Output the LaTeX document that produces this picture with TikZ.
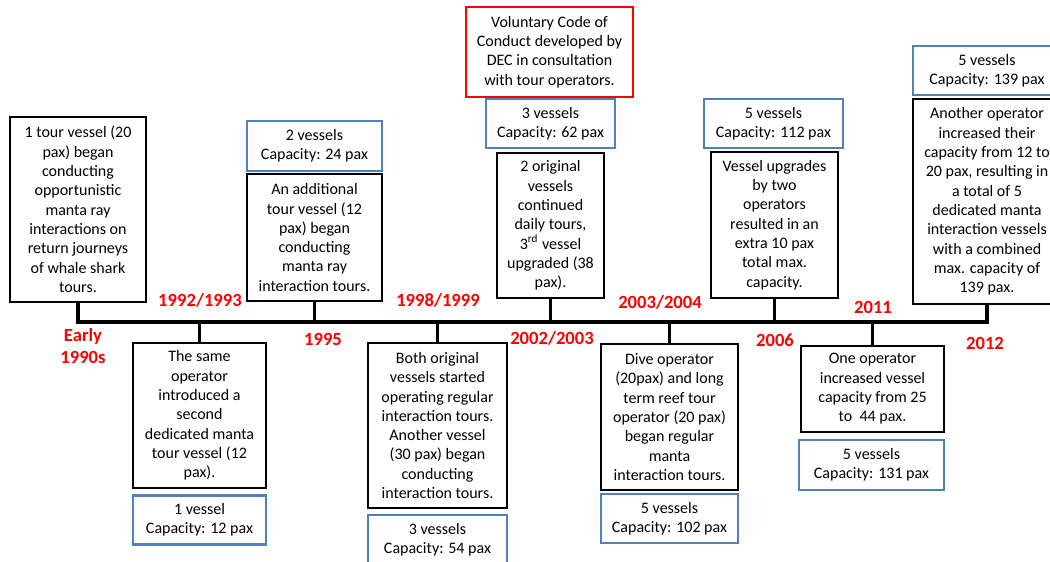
\documentclass[tikz,border=0pt]{standalone}
\usepackage{fontspec}
\setmainfont{Carlito}
\usepackage{tikz}
\definecolor{capblue}{RGB}{79,129,189}
\definecolor{yearred}{RGB}{255,0,0}

\begin{document}
\begin{tikzpicture}[x=0.02cm,y=-0.02cm,
  event/.style={draw=black,line width=1.6pt,fill=white,align=center,inner sep=0pt,font=\fontsize{9.1}{11}\selectfont},
  fleet/.style={draw=capblue,line width=1.5pt,fill=white,align=center,inner sep=0pt,minimum height=0.98cm,font=\fontsize{9.1}{11}\selectfont},
  code/.style={draw=yearred,line width=1.5pt,fill=white,align=center,inner sep=0pt,font=\fontsize{9.1}{11}\selectfont},
  year/.style={text=yearred,align=center,font=\fontsize{10.6}{12.5}\selectfont\bfseries},
  link/.style={line width=2pt}]
                      \useasboundingbox (0,0) rectangle (1050,561);
                      \coordinate (tl) at (0,322);
                      \node (e1) at (78,209.5) [event,minimum width=2.72cm,minimum height=3.70cm] {1 tour vessel (20\\pax) began\\conducting\\opportunistic\\manta ray\\interactions on\\return journeys\\of whale shark\\tours.};
                      \node (e2) at (199.5,415.5) [event,minimum width=2.66cm,minimum height=2.90cm] {The same\\operator\\introduced a\\second\\dedicated manta\\tour vessel (12\\pax).};
                      \node (f2) at (199.5,520) [fleet,minimum width=2.66cm] {1 vessel\\Capacity: 12 pax};
                      \node (e3) at (314.5,237.5) [event,minimum width=2.70cm,minimum height=2.54cm] {An additional\\tour vessel (12\\pax) began\\conducting\\manta ray\\interaction tours.};
                      \node (f3) at (314.5,146) [fleet,minimum width=2.70cm,minimum height=1.0cm] {2 vessels\\Capacity: 24 pax};
                      \node (e4) at (437.5,425.5) [event,minimum width=2.78cm,minimum height=3.30cm] {Both original\\vessels started\\operating regular\\interaction tours.\\Another vessel\\(30 pax) began\\conducting\\interaction tours.};
                      \node (f4) at (437.5,540) [fleet,minimum width=2.78cm,minimum height=1.0cm] {3 vessels\\Capacity: 54 pax};
                      \node (e5) at (550.5,225.5) [event,minimum width=2.14cm,minimum height=2.90cm] {2 original\\vessels\\continued\\daily tours,\\3\textsuperscript{rd} vessel\\upgraded (38\\pax).};
                      \node (f5) at (550.5,123.5) [fleet,minimum width=2.58cm] {3 vessels\\Capacity: 62 pax};
                      \node (c5) at (549.5,52) [code,minimum width=3.34cm,minimum height=1.80cm] {Voluntary Code of\\Conduct developed by\\DEC in consultation\\with tour operators.};
                      \node (e6) at (669.5,417) [event,minimum width=2.74cm,minimum height=2.92cm] {Dive operator\\(20pax) and long\\term reef tour\\operator (20 pax)\\began regular\\manta\\interaction tours.};
                      \node (f6) at (669.5,518.5) [fleet,minimum width=2.74cm] {5 vessels\\Capacity: 102 pax};
                      \node (e7) at (774.5,225) [event,minimum width=2.54cm,minimum height=2.92cm] {Vessel upgrades\\by two\\operators\\resulted in an\\extra 10 pax\\total max.\\capacity.};
                      \node (f7) at (773.5,123.5) [fleet,minimum width=2.78cm] {5 vessels\\Capacity: 112 pax};
                      \node (e8) at (872.5,389) [event,minimum width=2.86cm,minimum height=1.72cm] {One operator\\increased vessel\\capacity from 25\\to~ 44 pax.};
                      \node (f8) at (871.5,465) [fleet,minimum width=2.90cm,minimum height=1.0cm] {5 vessels\\Capacity: 131 pax};
                      \node (e9) at (987,201.5) [event,minimum width=2.96cm,minimum height=4.10cm] {Another operator\\increased their\\capacity from 12 to\\20 pax, resulting in\\a total of 5\\dedicated manta\\interaction vessels\\with a combined\\max. capacity of\\139 pax.};
                      \node (f9) at (987,70.5) [fleet,minimum width=2.96cm] {5 vessels\\Capacity: 139 pax};
                      \draw[line width=2.8pt] (e1.south) -- (e1.south |- tl) -| (e9.south);
                      \draw[link] (e2.north) -- (e2.north |- tl);
                      \draw[link] (e3.south) -- (e3.south |- tl);
                      \draw[link] (e4.north) -- (e4.north |- tl);
                      \draw[link] (e5.south) -- (e5.south |- tl);
                      \draw[link] (e6.north) -- (e6.north |- tl);
                      \draw[link] (e7.south) -- (e7.south |- tl);
                      \draw[link] (e8.north) -- (e8.north |- tl);
                      \node (y1) at (83,346) [year] {Early\\1990s};
                      \node (y2) at (200,300) [year] {1992/1993};
                      \node (y3) at (323,339) [year] {1995};
                      \node (y4) at (438,300) [year] {1998/1999};
                      \node (y5) at (552,338) [year] {2002/2003};
                      \node (y6) at (660,302) [year] {2003/2004};
                      \node (y7) at (775,340) [year] {2006};
                      \node (y8) at (873,307) [year] {2011};
                      \node (y9) at (985,343) [year] {2012};
                \end{tikzpicture}
\end{document}
